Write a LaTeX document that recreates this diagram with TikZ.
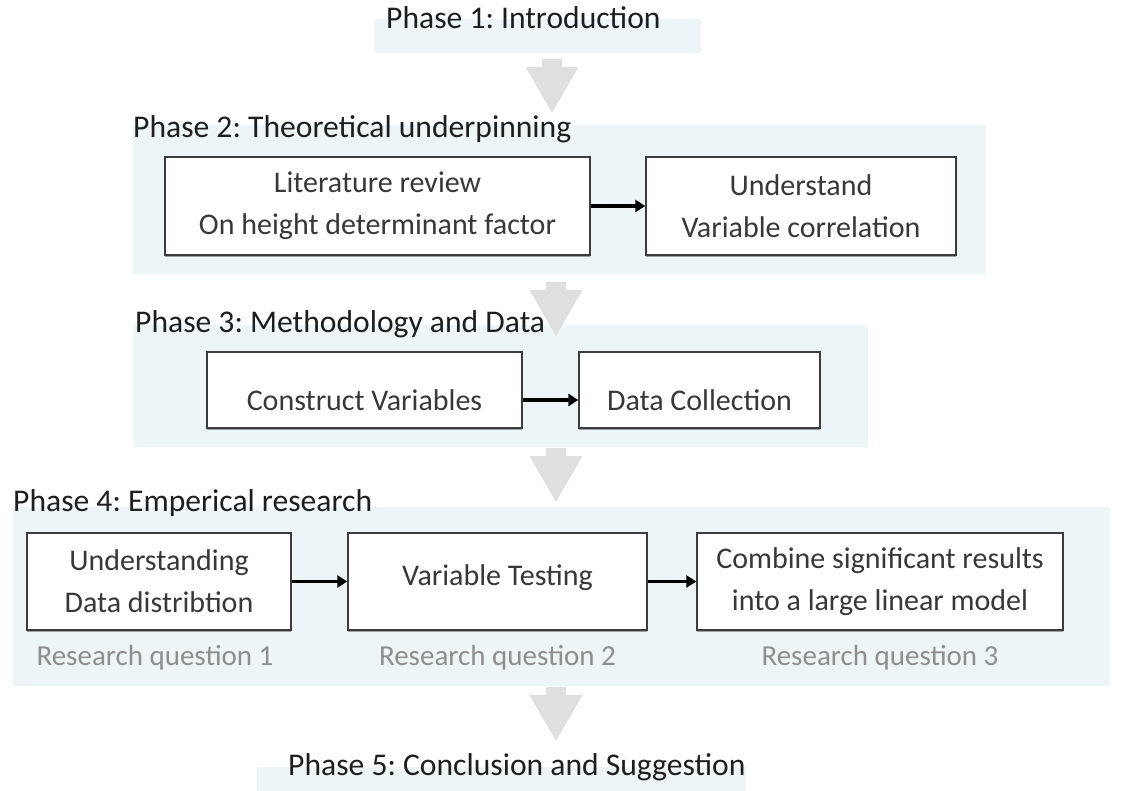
\documentclass[tikz,border=0pt]{standalone}
\usepackage{fontspec}
\setmainfont{Carlito}
\usetikzlibrary{arrows.meta,shadows}
\definecolor{bandfill}{HTML}{EEF5F7}
\definecolor{arrowgray}{HTML}{DFDFDF}
\definecolor{boxline}{HTML}{3C3C3C}
\definecolor{boxtext}{HTML}{383838}
\definecolor{rqgray}{HTML}{8E8E8E}
\definecolor{titletext}{HTML}{1E1E1E}
\frenchspacing
\begin{document}
\begin{tikzpicture}[x=1pt,y=-1pt,
  band/.style={fill=bandfill, draw=none},
  phasetitle/.style={anchor=base west, inner sep=0pt, text=titletext, font=\fontsize{31.6}{36}\selectfont},
  stepbox/.style={draw=boxline, line width=1.4pt, fill=white, inner sep=0pt, align=center,
    text=boxtext, font=\fontsize{30}{42}\selectfont,
    drop shadow={shadow xshift=0.4pt, shadow yshift=-1.6pt, opacity=0.35, fill=black}},
  boxlabel/.style={inner sep=0pt, align=center, text=boxtext, font=\fontsize{30}{42}\selectfont},
  rq/.style={inner sep=0pt, text=rqgray, font=\fontsize{29}{34}\selectfont},
  conn/.style={draw=black, line width=3.6pt, -{Triangle[length=10pt,width=12pt]}},
  bigarrow/.pic={\fill[arrowgray] (-10,0) -- (10,0) -- (10,8) -- (26.5,8) -- (0,54) -- (-26.5,8) -- (-10,8) -- cycle;}
]
\useasboundingbox (0,0) rectangle (1132,791);

% bands
\path[band] (374,19) rectangle (701,53);
\path[band] (133,125) rectangle (986,274);
\path[band] (133,325) rectangle (868,447);
\path[band] (13,507) rectangle (1110,686);
\path[band] (257,767) rectangle (746,791);

% big gray arrows between phases
\coordinate (a1) at (552,59);
\coordinate (a2) at (556,282);
\coordinate (a3) at (556,448);
\coordinate (a4) at (556,687);
\pic at (a1) {bigarrow};
\pic at (a2) {bigarrow};
\pic at (a3) {bigarrow};
\pic at (a4) {bigarrow};

% phase titles
\node[phasetitle] (t1) at (386,29) {Phase 1: Introduction};
\node[phasetitle] (t2) at (133,138) {Phase 2: Theoretical underpinning};
\node[phasetitle] (t3) at (135,333) {Phase 3: Methodology and Data};
\node[phasetitle] (t4) at (13,511) {Phase 4: Emperical research};
\node[phasetitle] (t5) at (288,775) {Phase 5: Conclusion and Suggestion};

% phase 2
\node[stepbox, minimum width=425pt, minimum height=98pt] (lit) at (377.5,206) {Literature review\\On height determinant factor};
\node[stepbox, minimum width=310pt, minimum height=98pt] (und) at (801,206) {Understand\\Variable correlation};
\draw[conn] (lit.east) -- (und.west);

% phase 3
\node[stepbox, minimum width=315pt, minimum height=76pt] (cv) at (364.5,390) {};
\node[boxlabel] (cvt) at ([yshift=-10pt]cv.center) {Construct Variables};
\node[stepbox, minimum width=241pt, minimum height=76pt] (dc) at (699.5,390) {};
\node[boxlabel] (dct) at ([yshift=-10pt]dc.center) {Data Collection};
\draw[conn] ([yshift=-10pt]cv.east) -- ([yshift=-10pt]dc.west);

% phase 4
\node[stepbox, minimum width=264pt, minimum height=97pt] (b1) at (159,581.5) {Understanding\\Data distribtion};
\node[stepbox, minimum width=299pt, minimum height=97pt] (b2) at (497.5,581.5) {};
\node[boxlabel] (b2t) at ([yshift=4pt]b2.center) {Variable Testing};
\node[stepbox, minimum width=366pt, minimum height=97pt] (b3) at (880,581.5) {Combine significant results\\into a large linear model};
\draw[conn] (b1.east) -- (b2.west);
\draw[conn] (b2.east) -- (b3.west);

\node[rq] (rq1) at (155,658) {Research question 1};
\node[rq] (rq2) at (497.5,658) {Research question 2};
\node[rq] (rq3) at (880,658) {Research question 3};
\end{tikzpicture}
\end{document}
